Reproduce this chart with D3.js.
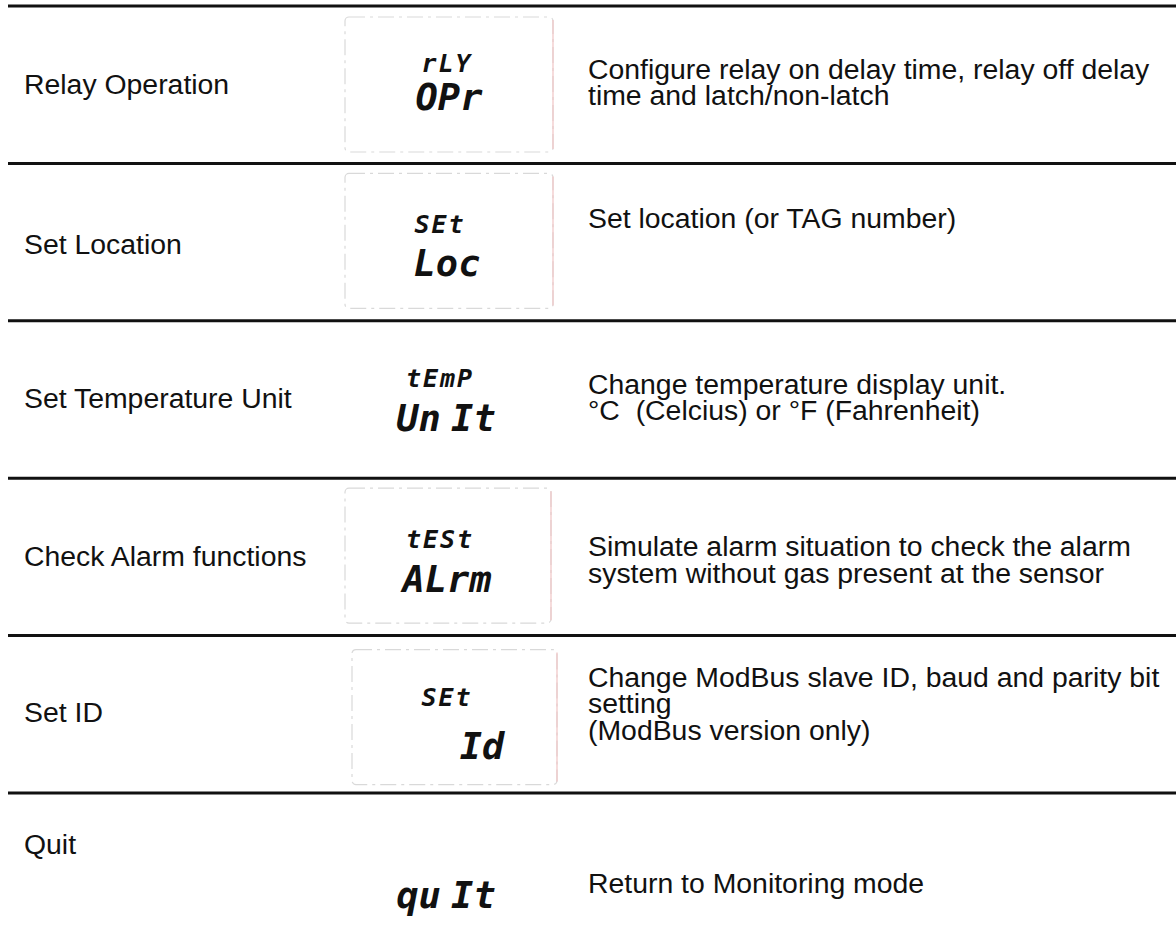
<!DOCTYPE html>
<html><head><meta charset="utf-8">
<script src="https://cdn.jsdelivr.net/npm/d3@7"></script>
<style>html,body{margin:0;padding:0;background:#fff;}</style>
</head><body>
<svg id="c" width="1176" height="950"></svg>
<script>
// ---- data ----
const labels = ["Relay Operation","Set Location","Set Temperature Unit","Check Alarm functions","Set ID","Quit"];
const lcdTop = ["rLY","SEt","tEmP","tESt","SEt",""];
const lcdBottom = ["OPr","Loc","Un It","ALrm","Id","qu It"];
const descriptions = [
  ["Configure relay on delay time, relay off delay","time and latch/non-latch"],
  ["Set location (or TAG number)"],
  ["Change temperature display unit.","°C  (Celcius) or °F (Fahrenheit)"],
  ["Simulate alarm situation to check the alarm","system without gas present at the sensor"],
  ["Change ModBus slave ID, baud and parity bit","setting","(ModBus version only)"],
  ["Return to Monitoring mode"]
];
const hasBox = [true,true,false,true,true,false];

// ---- layout (offsets from each row's top rule) ----
const layout = [
  {label:78, desc:63, top:57, bot:91, tx:447, bx:449, box:[345,553,11,146]},
  {label:81, desc:55, top:61, bot:99, tx:440, bx:447, box:[345,553,10,145]},
  {label:77, desc:63, top:57, bot:97, tx:440, bx:446, box:null},
  {label:78, desc:68, top:61, bot:100, tx:440, bx:447, box:[345,551,10,145]},
  {label:76, desc:41, top:61, bot:110, tx:447, bx:482, box:[352,557,14,149]},
  {label:51, desc:90, top:0, bot:102, tx:446, bx:446, box:null}
];

const svg = d3.select("#c");
const W = 1176;
const y = d3.scaleLinear().domain([0,5]).range([6,793]);
const x = d3.scaleLinear().domain([0,1]).range([0,W]);
const font = "'Liberation Sans', Arial, sans-serif";
const lcdFont = "'DejaVu Sans Mono', monospace";
const fs = 28.4, lh = 26.5;

// horizontal rules
svg.selectAll("line.rule").data(d3.range(6)).join("line")
  .attr("class","rule")
  .attr("x1",8).attr("x2",x(1))
  .attr("y1",d=>y(d)).attr("y2",d=>y(d))
  .attr("stroke","#111").attr("stroke-width",3);

const rows = svg.selectAll("g.row").data(labels.map((l,i)=>({i,l}))).join("g")
  .attr("class","row").attr("transform",d=>`translate(0,${y(d.i)})`);

// LCD boxes
rows.filter(d=>hasBox[d.i]).each(function(d){
  const b = layout[d.i].box, g = d3.select(this);
  g.append("rect").attr("x",b[0]).attr("y",b[2]).attr("width",b[1]-b[0]).attr("height",b[3]-b[2])
    .attr("rx",4).attr("fill","#fff").attr("stroke","#d9d9d9").attr("stroke-width",1.2)
    .attr("stroke-dasharray","16 5 3 5");
  g.append("line").attr("x1",b[1]).attr("x2",b[1]).attr("y1",b[2]+3).attr("y2",b[3]-3)
    .attr("stroke","#f0c4c4").attr("stroke-width",1.2);
});

// left labels
rows.append("text")
  .attr("x",24).attr("y",d=>layout[d.i].label).attr("dy","0.35em")
  .attr("font-family",font).attr("font-size",fs).attr("fill","#111")
  .text(d=>d.l);

// LCD text
rows.append("text")
  .attr("x",d=>layout[d.i].tx).attr("y",d=>layout[d.i].top).attr("dy","0.36em")
  .attr("text-anchor","middle").attr("font-family",lcdFont).attr("font-style","italic")
  .attr("font-weight","bold").attr("font-size",25).attr("fill","#111")
  .style("letter-spacing","2px")
  .text(d=>lcdTop[d.i]);
rows.append("text")
  .attr("x",d=>layout[d.i].bx).attr("y",d=>layout[d.i].bot).attr("dy","0.36em")
  .attr("text-anchor","middle").attr("font-family",lcdFont).attr("font-style","italic")
  .attr("font-weight","bold").attr("font-size",37).attr("fill","#111")
  .style("white-space","pre").style("word-spacing","-12px")
  .text(d=>lcdBottom[d.i]);

// descriptions
rows.each(function(d){
  const g = d3.select(this);
  const t = g.append("text").attr("font-family",font).attr("font-size",fs).attr("fill","#111")
    .style("white-space","pre");
  t.selectAll("tspan").data(descriptions[d.i]).join("tspan")
    .attr("x",588).attr("y",(s,k)=>layout[d.i].desc + k*lh).attr("dy","0.35em")
    .text(s=>s);
});
</script>
</body></html>
